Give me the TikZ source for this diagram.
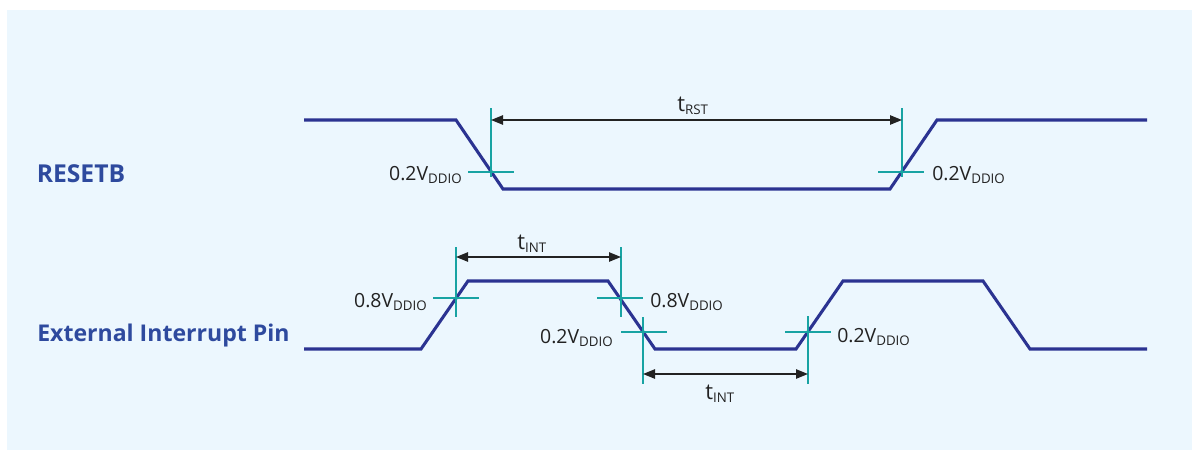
\documentclass[tikz,border=0pt]{standalone}
\usepackage{fontspec}
\setmainfont{Open Sans}
\usetikzlibrary{arrows.meta}
\definecolor{bgblue}{RGB}{236,247,254}
\definecolor{wavecol}{RGB}{43,51,145}
\definecolor{crosscol}{RGB}{24,163,163}
\definecolor{labcol}{RGB}{46,74,158}
\definecolor{txtcol}{RGB}{34,34,34}
\newcommand{\vlbl}[1]{#1V\raisebox{-2.6pt}{\fontsize{10}{10}\selectfont DDIO}}
\newcommand{\tlbl}[1]{{\fontsize{16.5}{18}\selectfont t}\raisebox{-2.4pt}{\fontsize{10}{10}\selectfont #1}}
\begin{document}
\begin{tikzpicture}[x=0.75pt,y=-0.75pt,
  waveline/.style={draw=wavecol, line width=2.3pt, line join=miter},
  crossline/.style={draw=crosscol, line width=1.1pt},
  dimline/.style={draw=txtcol, line width=1.1pt, {Triangle[length=9pt,width=7pt]}-{Triangle[length=9pt,width=7pt]}},
  vtext/.style={text=txtcol, inner sep=0pt, font=\fontsize{14.6}{16}\selectfont},
  sigtext/.style={text=labcol, inner sep=0pt, anchor=base west, font=\fontsize{18.5}{20}\selectfont\bfseries}]
\useasboundingbox (0,0) rectangle (1192,450);
\fill[bgblue] (7,10) rectangle (1192,450);

% signal names
\node[sigtext] (nreset) at (36.5,182) {RESETB};
\node[sigtext, font=\fontsize{17.3}{20}\selectfont\bfseries] (nint) at (37,341) {External Interrupt Pin};

% RESETB waveform
\draw[waveline] (304,120) -- (456,120) -- (503,189) -- (890,189) -- (937,120) -- (1147,120);
% External interrupt waveform
\draw[waveline] (304,349) -- (421,349) -- (468,281) -- (608,281) -- (655,349) -- (796,349) -- (843,281) -- (983,281) -- (1030,349) -- (1147,349);

% crosshair centres
\coordinate (r1) at (491,172);
\coordinate (r2) at (902,172);
\coordinate (cA) at (456,298);
\coordinate (cB) at (621,298);
\coordinate (cC) at (643,332);
\coordinate (cD) at (808,332);

% crosshairs
\draw[crossline] (r1 |- 0,108) -- (r1 |- 0,177) (468,172) -- (514,172);
\draw[crossline] (r2 |- 0,108) -- (r2 |- 0,177) (878,172) -- (924,172);
\draw[crossline] (cA |- 0,247) -- (cA |- 0,317) (433,298) -- (479,298);
\draw[crossline] (cB |- 0,247) -- (cB |- 0,317) (597,298) -- (643,298);
\draw[crossline] (cC |- 0,317) -- (cC |- 0,384) (621,332) -- (667,332);
\draw[crossline] (cD |- 0,316) -- (cD |- 0,384) (785,332) -- (831,332);

% dimension arrows
\coordinate (trs1) at (r1 |- 0,120);
\coordinate (trs2) at (r2 |- 0,120);
\coordinate (ti1) at (cA |- 0,257);
\coordinate (ti2) at (cB |- 0,257);
\coordinate (tj1) at (cC |- 0,374);
\coordinate (tj2) at (cD |- 0,374);
\draw[dimline] (trs1) -- (trs2);
\draw[dimline] (ti1) -- (ti2);
\draw[dimline] (tj1) -- (tj2);

% timing labels
\node[vtext, anchor=base west] (lrst) at (677,111) {\tlbl{RST}};
\node[vtext, anchor=base west] (lint1) at (517,249) {\tlbl{INT}};
\node[vtext, anchor=base west] (lint2) at (705,399) {\tlbl{INT}};

% voltage labels
\node[vtext, anchor=base east] (v1) at (462,180) {\vlbl{0.2}};
\node[vtext, anchor=base west] (v2) at (932,180) {\vlbl{0.2}};
\node[vtext, anchor=base east] (v3) at (427,307) {\vlbl{0.8}};
\node[vtext, anchor=base west] (v4) at (650,307) {\vlbl{0.8}};
\node[vtext, anchor=base east] (v5) at (613,343) {\vlbl{0.2}};
\node[vtext, anchor=base west] (v6) at (837,342) {\vlbl{0.2}};
\end{tikzpicture}
\end{document}
